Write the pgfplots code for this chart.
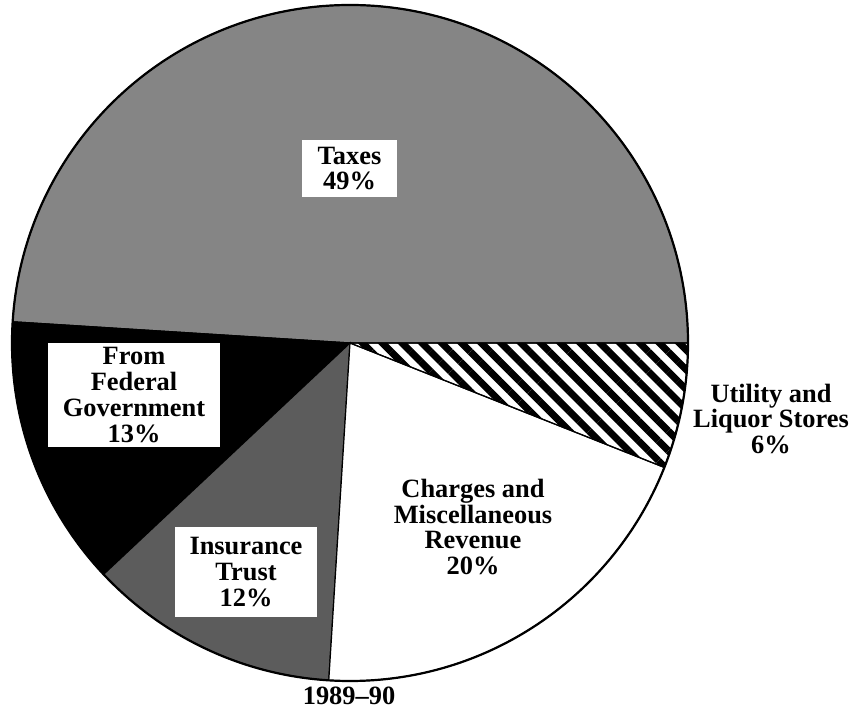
\documentclass[border=0pt]{standalone}
\usepackage{fontspec}
\setmainfont{Liberation Serif}
\usepackage{pgfplots}
\pgfplotsset{compat=1.18}
\usepackage{pgfplotstable}
\usetikzlibrary{patterns.meta}

\pgfplotstableread{
slice pct
Taxes 49
Federal 13
Insurance 12
Charges 20
Utility 6
}\piedata

\tikzset{
  slice0/.style={fill=black!48},
  slice1/.style={fill=black},
  slice2/.style={fill=black!64},
  slice3/.style={fill=white},
  slice4/.style={pattern={Lines[angle=-45,distance=14bp,line width=7bp]},pattern color=black},
  lab/.style={font=\fontsize{26.5}{26}\selectfont\bfseries,align=center,inner sep=0pt},
}

\begin{document}
\begin{tikzpicture}
\expandafter\xdef\csname pieS0\endcsname{0}
\foreach \i in {0,...,4}{
  \pgfplotstablegetelem{\i}{pct}\of\piedata
  \edef\prev{\csname pieS\i\endcsname}
  \pgfmathsetmacro{\nxt}{\prev+3.6*\pgfplotsretval}
  \pgfmathtruncatemacro{\j}{\i+1}
  \expandafter\xdef\csname pieE\i\endcsname{\nxt}
  \expandafter\xdef\csname pieS\j\endcsname{\nxt}
}
\begin{axis}[at={(0,0)},anchor=south west,scale only axis,
  width=857bp,height=713bp,xmin=0,xmax=857,ymin=0,ymax=713,
  hide axis,clip=false]
\pgfplotsinvokeforeach{0,...,4}{
  \edef\temp{\noexpand\fill[slice#1,draw=black,line width=1.2bp]
    (axis cs:350,370) -- ++(\csname pieS#1\endcsname:338bp)
    arc[start angle=\csname pieS#1\endcsname,end angle=\csname pieE#1\endcsname,radius=338bp] -- cycle;}
  \temp
}
\draw[line width=2.2bp] (axis cs:350,370) circle[radius=338bp];

\node[lab,fill=white,minimum width=95bp,minimum height=57bp] at (axis cs:349.5,544.5) {Taxes\\49\%};
\node[lab,fill=white,minimum width=172bp,minimum height=104bp] at (axis cs:134,318) {From\\Federal\\Government\\13\%};
\node[lab,fill=white,minimum width=142bp,minimum height=90bp] at (axis cs:246,141) {Insurance\\Trust\\12\%};
\node[lab] at (axis cs:473,186) {Charges and\\Miscellaneous\\Revenue\\20\%};
\node[lab] at (axis cs:771,294) {Utility and\\Liquor Stores\\6\%};
\node[lab] at (axis cs:349,17) {1989--90};
\end{axis}
\pgfresetboundingbox
\path (0,0) rectangle (857bp,713bp);
\end{tikzpicture}
\end{document}
